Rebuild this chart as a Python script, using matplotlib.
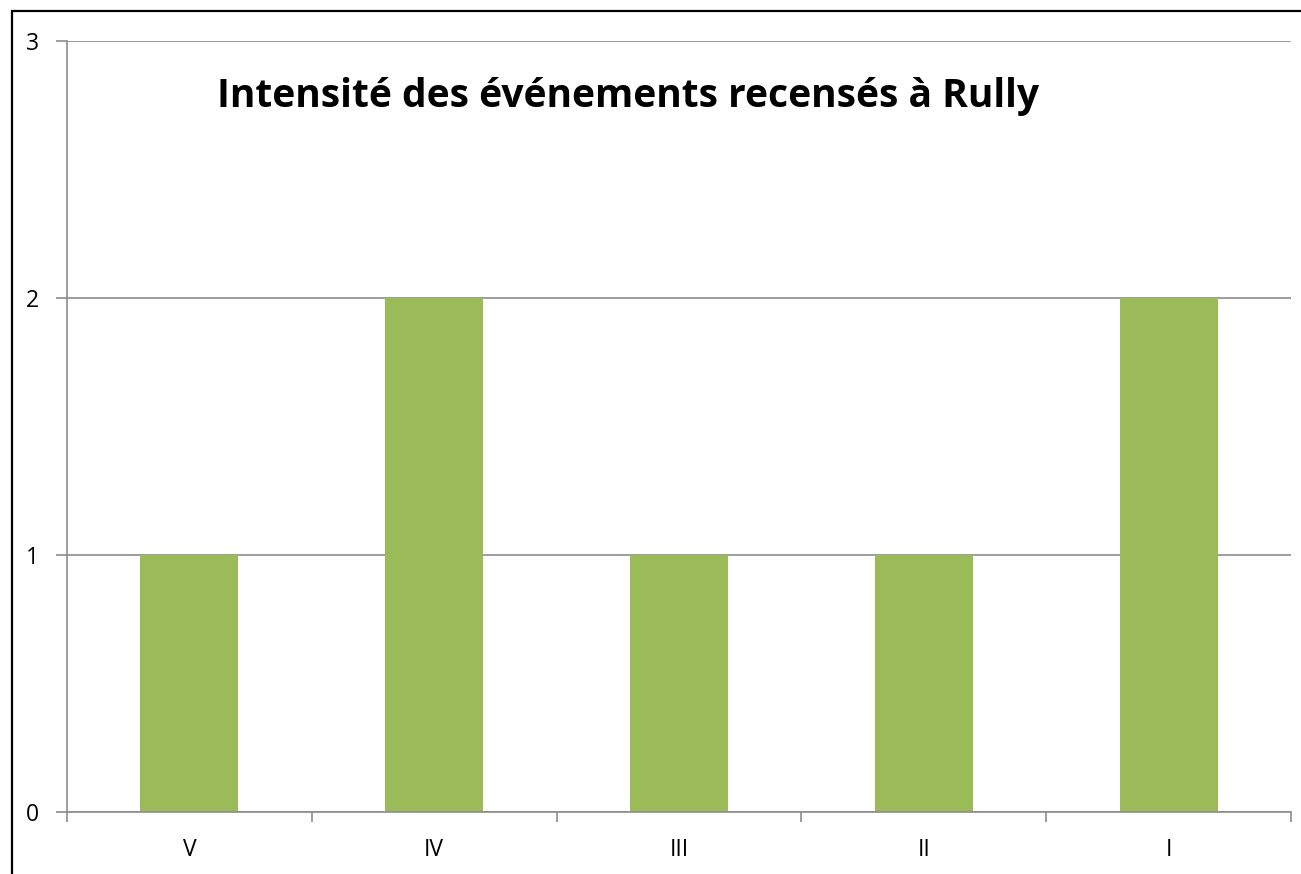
import matplotlib
matplotlib.use("Agg")
import matplotlib.pyplot as plt
from matplotlib.patches import Rectangle

categories = ["V", "IV", "III", "II", "I"]
values = [1, 2, 1, 1, 2]
yticks = [0, 1, 2, 3]
title = "Intensité des événements recensés à Rully"

W, H = 1301, 874
fig = plt.figure(figsize=(W / 100, H / 100), dpi=100)
plt.rcParams['font.family'] = ['Open Sans', 'DejaVu Sans']

# outer chart border (left and top visible)
fig.patches.append(Rectangle((12 / W, -0.1), 1.2, (H - 11) / H + 0.1,
                             transform=fig.transFigure, fill=False,
                             edgecolor='black', linewidth=1.6, zorder=0))

ax = fig.add_axes([67 / W, 1 - 812 / H, (1291 - 67) / W, (812 - 41) / H])
x = list(range(len(categories)))
ax.bar(x, values, width=0.4, color='#9BBB59', zorder=2)
ax.set_xlim(-0.5, len(categories) - 0.5)
ax.set_ylim(0, 3)
ax.set_yticks(yticks)
ax.set_yticklabels([str(t) for t in yticks], fontsize=16.5)
ax.yaxis.grid(True, color='#8c8c8c', linewidth=1.2, zorder=1)
ax.set_axisbelow(True)

ax.set_xticks(x)
ax.set_xticklabels(categories, fontsize=16.5)
ax.tick_params(axis='x', which='major', length=0, pad=19)
ax.set_xticks([i - 0.5 for i in range(len(categories) + 1)], minor=True)
ax.tick_params(axis='x', which='minor', length=7, width=1.2, color='#8c8c8c', direction='out')
ax.tick_params(axis='y', length=8, width=1.2, color='#8c8c8c', direction='out', pad=12)

for s in ['top', 'right']:
    ax.spines[s].set_visible(False)
for s in ['left', 'bottom']:
    ax.spines[s].set_color('#8c8c8c')
    ax.spines[s].set_linewidth(1.2)

fig.text(628 / W, 1 - 97 / H, title, ha='center', va='center',
         fontsize=28.1, fontweight='bold')

fig.savefig("out.png", dpi=100)
